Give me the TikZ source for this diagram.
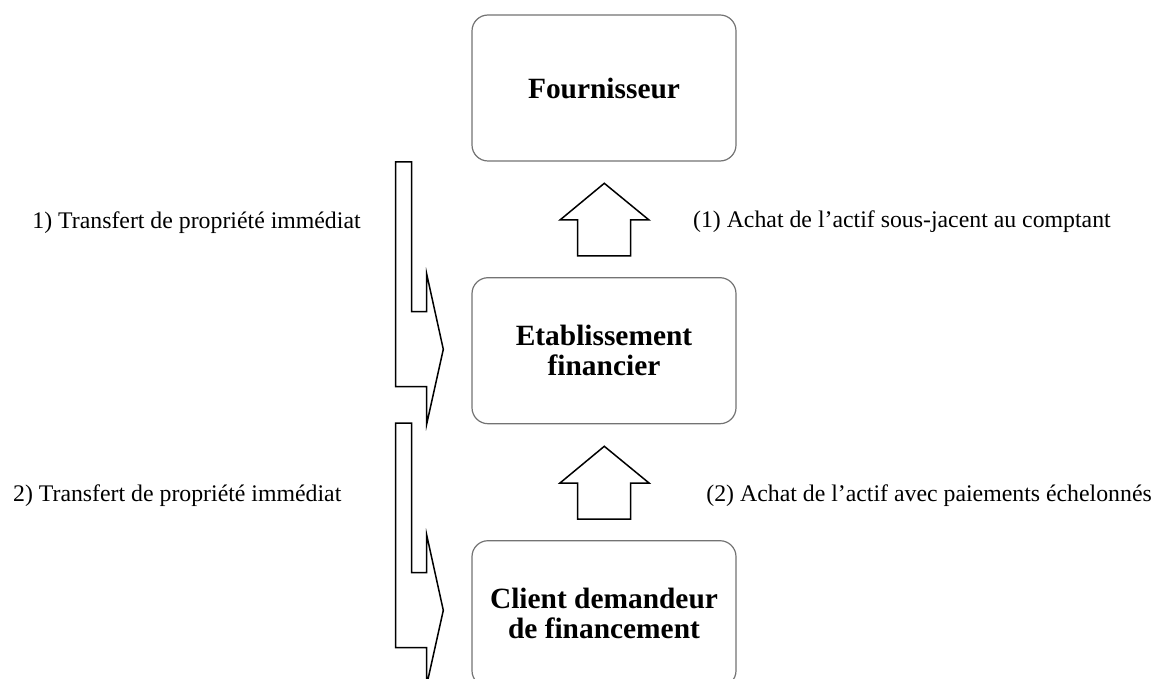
\documentclass[tikz,border=0pt]{standalone}
\usepackage{fontspec}
\setmainfont{Liberation Serif}
\usetikzlibrary{positioning}

\begin{document}
\begin{tikzpicture}[x=0.5pt,y=-0.5pt,
                    box/.style={draw=black!55,line width=0.6pt,rounded corners=8pt,fill=white,
                                minimum width=132pt,minimum height=73pt,align=center,
                                font=\fontsize{14.7}{15}\selectfont\bfseries},
                    lbl/.style={font=\fontsize{11.9}{14}\selectfont,anchor=base west,inner sep=0pt},
                    blockarrow/.style={draw=black,line width=0.75pt,line join=miter}]

\useasboundingbox (0,0) rectangle (1156,679);

\node[box] (fourn) at (604,88) {Fournisseur};
\node[box] (etab) at (604,350.7) {Etablissement\\financier};
\node[box] (client) at (604,613.7) {Client demandeur\\de financement};

% bent arrows on the left
\foreach \dy in {0,261}
  \draw[blockarrow,yshift=-\dy*0.5pt] (395.7,162) -- (411.7,162) -- (411.7,311.7) -- (426.7,311.7)
    -- (426.7,274) -- (443.3,349.3) -- (426.7,424) -- (426.7,386.7) -- (395.7,386.7) -- cycle;

% up arrows between the boxes
\foreach \dy in {0,263}
  \draw[blockarrow,yshift=-\dy*0.5pt] (577.7,256) -- (577.7,220) -- (560,220) -- (604.3,183.3)
    -- (649,220) -- (630.7,220) -- (630.7,256) -- cycle;

\node[lbl] (trans1) at (32,228) {1) Transfert de propriété immédiat};
\node[lbl] (achat1) at (692.7,227.5) {(1) Achat de l’actif sous-jacent au comptant};
\node[lbl] (trans2) at (12.7,501.7) {2) Transfert de propriété immédiat};
\node[lbl] (achat2) at (706,501.7) {(2) Achat de l’actif avec paiements échelonnés};

\end{tikzpicture}
\end{document}
